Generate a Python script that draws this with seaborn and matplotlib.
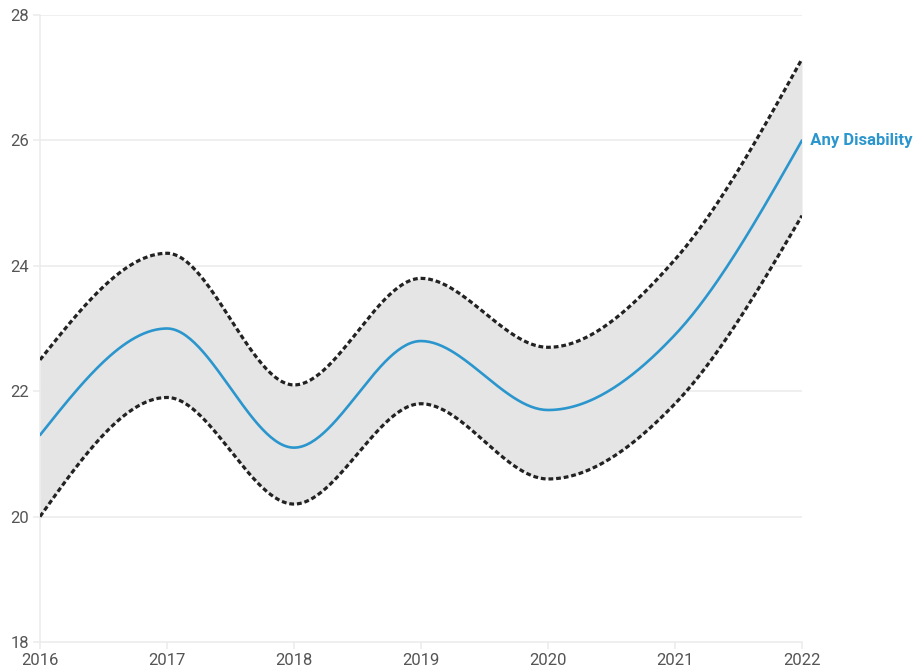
import numpy as np
import pandas as pd
import matplotlib
matplotlib.use("Agg")
import matplotlib.pyplot as plt
import seaborn as sns

years = [2016, 2017, 2018, 2019, 2020, 2021, 2022]
estimate = [21.3, 23.0, 21.1, 22.8, 21.7, 22.9, 26.0]
upper_ci = [22.5, 24.2, 22.1, 23.8, 22.7, 24.1, 27.3]
lower_ci = [20.0, 21.9, 20.2, 21.8, 20.6, 21.8, 24.8]
series_label = "Any Disability"
y_ticks = [18, 20, 22, 24, 26, 28]


def monotone_curve(x, y, n=60):
    """Monotone cubic (Steffen) interpolation, evaluated densely per segment."""
    x = np.asarray(x, float)
    y = np.asarray(y, float)
    h = np.diff(x)
    s = np.diff(y) / h
    m = np.zeros_like(y)
    for i in range(1, len(x) - 1):
        p = (s[i - 1] * h[i] + s[i] * h[i - 1]) / (h[i - 1] + h[i])
        m[i] = (np.sign(s[i - 1]) + np.sign(s[i])) * min(abs(s[i - 1]), abs(s[i]), 0.5 * abs(p))
    m[0] = (3 * s[0] - m[1]) / 2
    m[-1] = (3 * s[-1] - m[-2]) / 2
    xs, ys = [], []
    for i in range(len(x) - 1):
        t = np.linspace(0, 1, n, endpoint=(i == len(x) - 2))
        h00 = 2 * t**3 - 3 * t**2 + 1
        h10 = t**3 - 2 * t**2 + t
        h01 = -2 * t**3 + 3 * t**2
        h11 = t**3 - t**2
        xs.append(x[i] + t * h[i])
        ys.append(h00 * y[i] + h10 * h[i] * m[i] + h01 * y[i + 1] + h11 * h[i] * m[i + 1])
    return np.concatenate(xs), np.concatenate(ys)


xs, est_s = monotone_curve(years, estimate)
_, up_s = monotone_curve(years, upper_ci)
_, lo_s = monotone_curve(years, lower_ci)
curves = pd.DataFrame({"year": xs, "estimate": est_s, "upper": up_s, "lower": lo_s})

sns.set_theme(style="white")
plt.rcParams["font.family"] = ["Roboto", "DejaVu Sans"]

fig = plt.figure(figsize=(9.15, 6.71), dpi=100)
ax = fig.add_axes([40 / 915, 29 / 671, 762 / 915, 627 / 671])

grid_c = "#ebebeb"
ax.fill_between(curves["year"], curves["lower"], curves["upper"], color="#e5e5e5", lw=0, zorder=1)
for col in ["upper", "lower"]:
    sns.lineplot(data=curves, x="year", y=col, ax=ax, color="#222222", lw=2.3,
                 linestyle=(0, (1.5, 0.9)), zorder=3, sort=False)
sns.lineplot(data=curves, x="year", y="estimate", ax=ax, color="#2b96cd", lw=1.9, zorder=4, sort=False)

ax.text(years[-1], estimate[-1], "  " + series_label, color="#2b96cd", fontsize=12,
        fontweight="bold", va="center", ha="left", clip_on=False)

ax.set_xlim(years[0], years[-1])
ax.set_ylim(y_ticks[0], y_ticks[-1])
ax.set_xticks(years)
ax.set_xticklabels([str(y) for y in years])
ax.set_yticks(y_ticks)
ax.set_yticklabels([str(v) for v in y_ticks])
ax.set_xlabel("")
ax.set_ylabel("")

for v in y_ticks[1:]:
    ax.axhline(v, color=grid_c, lw=1.1, zorder=0)
for side in ["top", "right"]:
    ax.spines[side].set_visible(False)
for side in ["left", "bottom"]:
    ax.spines[side].set_color(grid_c)
    ax.spines[side].set_linewidth(1.1)

ax.tick_params(axis="both", which="major", length=5, width=1.1, color=grid_c,
               labelcolor="#555555", labelsize=12, pad=3,
               bottom=True, left=True)

fig.savefig("out.png", dpi=100)
